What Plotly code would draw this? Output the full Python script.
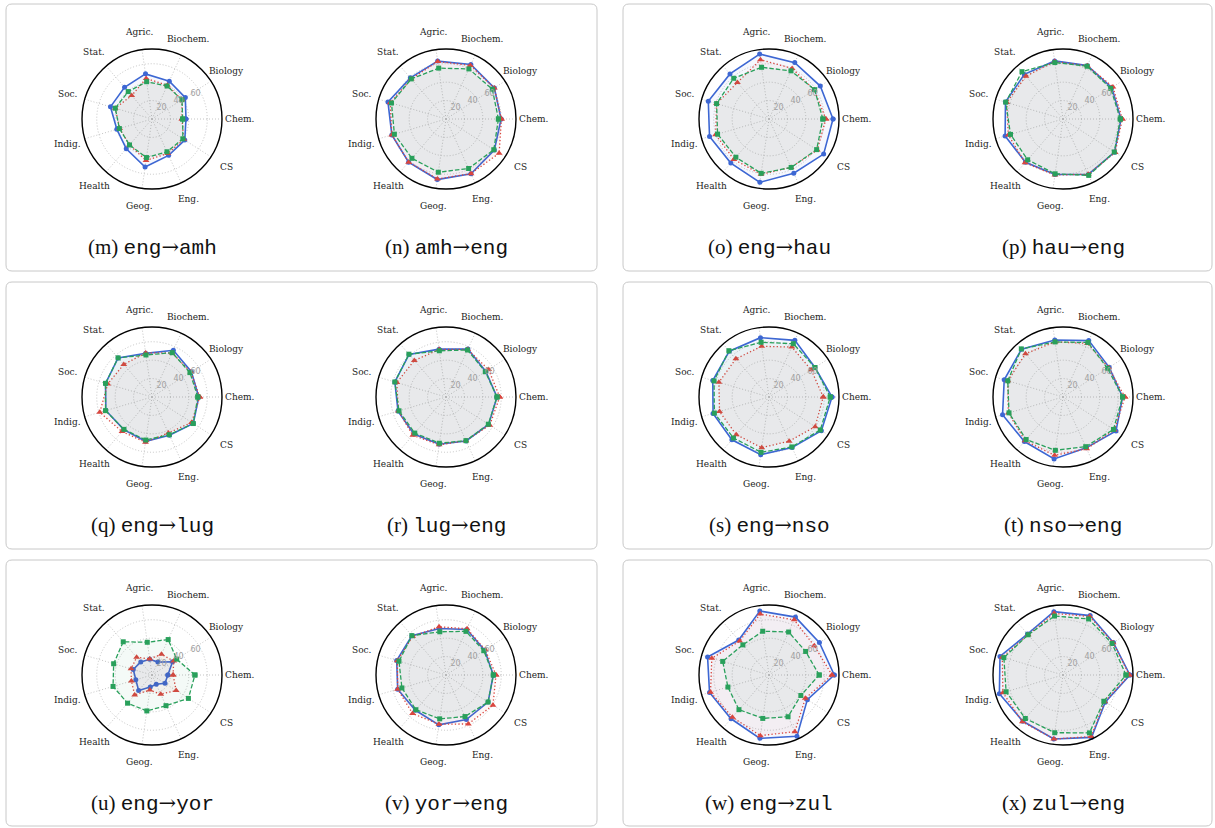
import math
import plotly.graph_objects as go

categories = ["Chem.", "Biology", "Biochem.", "Agric.", "Stat.", "Soc.",
              "Indig.", "Health", "Geog.", "Eng.", "CS"]
radial_ticks = [20, 40, 60]
r_max = 76

panel_letters = ["m", "n", "o", "p", "q", "r", "s", "t", "u", "v", "w", "x"]
src_langs = ["eng", "amh", "eng", "hau", "eng", "lug", "eng", "nso", "eng", "yor", "eng", "zul"]
tgt_langs = ["amh", "eng", "hau", "eng", "lug", "eng", "nso", "eng", "yor", "eng", "zul", "eng"]

# series values, ordered as categories
m_blue = [36.9, 43.0, 45.2, 49.5, 45.5, 47.0, 39.8, 42.7, 52.7, 43.4, 42.3]
m_red = [32.6, 38.7, 40.2, 44.5, 33.7, 41.6, 36.6, 37.3, 45.5, 41.2, 40.9]
m_green = [33.3, 38.7, 39.4, 40.9, 39.4, 41.6, 36.9, 37.3, 42.3, 39.1, 39.8]

n_blue = [59.8, 62.4, 65.0, 63.5, 59.1, 65.7, 61.3, 62.0, 66.4, 65.3, 62.4]
n_red = [60.2, 62.4, 63.9, 63.1, 57.6, 63.1, 61.3, 62.0, 65.7, 65.3, 68.6]
n_green = [56.9, 59.8, 59.8, 55.8, 57.6, 61.7, 58.4, 56.5, 58.4, 59.1, 61.7]

o_blue = [69.5, 66.2, 67.3, 71.3, 64.7, 68.7, 67.3, 63.3, 69.5, 64.7, 70.5]
o_red = [61.8, 58.5, 60.4, 65.1, 52.4, 59.3, 60.4, 58.2, 60.7, 57.8, 62.2]
o_green = [58.5, 58.9, 57.5, 56.7, 58.5, 59.3, 58.2, 54.9, 59.6, 57.8, 61.5]

p_blue = [63.0, 63.0, 63.7, 63.7, 64.1, 65.1, 65.5, 62.2, 60.8, 66.2, 66.6]
p_red = [64.4, 64.4, 63.7, 63.0, 61.5, 63.7, 61.9, 63.0, 61.5, 65.9, 67.3]
p_green = [62.2, 61.5, 63.0, 61.9, 68.0, 64.8, 59.4, 58.6, 60.1, 67.3, 66.2]

q_blue = [50.8, 50.8, 55.8, 47.9, 56.2, 52.6, 52.2, 46.8, 48.6, 45.7, 53.3]
q_red = [51.9, 50.1, 52.6, 48.3, 46.8, 50.1, 59.1, 49.7, 49.7, 42.9, 51.1]
q_green = [49.7, 49.0, 52.9, 46.1, 56.2, 52.6, 52.6, 46.5, 47.2, 45.0, 53.3]

r_blue = [55.4, 51.4, 57.2, 52.5, 61.2, 57.9, 54.3, 53.2, 51.8, 52.5, 55.0]
r_red = [58.3, 55.0, 56.8, 52.1, 52.5, 55.7, 53.9, 55.0, 52.5, 52.1, 56.5]
r_green = [55.4, 50.7, 56.1, 50.7, 61.5, 57.9, 53.2, 51.8, 50.7, 52.1, 54.6]

s_blue = [68.4, 59.3, 67.6, 65.1, 65.8, 63.6, 63.3, 61.5, 63.3, 60.4, 67.6]
s_red = [58.9, 54.5, 59.6, 55.6, 54.9, 56.7, 56.0, 54.2, 55.6, 52.7, 59.6]
s_green = [66.5, 59.3, 63.6, 60.0, 66.5, 62.2, 61.8, 58.9, 60.7, 59.6, 66.2]

t_blue = [64.7, 59.6, 67.3, 62.5, 68.7, 66.5, 68.4, 64.0, 68.0, 60.7, 68.4]
t_red = [67.3, 58.9, 64.0, 60.4, 62.2, 62.5, 61.8, 62.9, 64.0, 61.8, 66.2]
t_green = [64.7, 57.5, 65.1, 60.4, 69.1, 62.5, 61.1, 61.1, 58.5, 59.3, 65.1]

u_blue = [17.2, 26.5, 15.4, 17.2, 18.6, 21.2, 18.3, 22.2, 13.1, 11.1, 16.8]
u_red = [22.9, 28.0, 24.7, 17.6, 25.5, 23.7, 23.3, 28.7, 16.5, 22.9, 31.2]
u_green = [46.6, 31.9, 42.3, 35.9, 47.7, 43.4, 44.1, 40.5, 39.4, 36.6, 47.0]

v_blue = [51.4, 49.9, 54.3, 51.0, 56.5, 55.8, 54.7, 50.7, 54.7, 53.2, 54.3]
v_red = [54.3, 50.7, 55.1, 52.9, 55.4, 55.1, 54.7, 55.4, 54.0, 58.4, 60.6]
v_green = [51.4, 48.8, 52.1, 47.4, 56.5, 53.2, 49.9, 49.9, 48.1, 49.6, 54.3]

w_blue = [70.9, 65.1, 69.1, 70.2, 50.2, 69.5, 67.3, 62.9, 69.5, 73.1, 49.5]
w_red = [68.4, 58.5, 65.8, 66.9, 48.7, 64.7, 66.2, 60.7, 66.5, 67.6, 46.9]
w_green = [54.5, 47.3, 51.3, 48.0, 43.3, 52.4, 46.5, 49.8, 47.6, 49.8, 41.1]

x_blue = [72.7, 65.1, 70.9, 69.5, 58.9, 71.3, 72.0, 66.5, 70.2, 74.5, 54.5]
x_red = [72.0, 64.7, 69.8, 67.6, 57.8, 68.7, 68.0, 67.3, 70.2, 73.5, 53.8]
x_green = [68.4, 63.3, 66.9, 64.7, 57.8, 66.9, 64.4, 62.5, 63.3, 69.1, 52.7]

series_sets = [
    (m_blue, m_red, m_green), (n_blue, n_red, n_green),
    (o_blue, o_red, o_green), (p_blue, p_red, p_green),
    (q_blue, q_red, q_green), (r_blue, r_red, r_green),
    (s_blue, s_red, s_green), (t_blue, t_red, t_green),
    (u_blue, u_red, u_green), (v_blue, v_red, v_green),
    (w_blue, w_red, w_green), (x_blue, x_red, x_green),
]

# ---- styling / layout ----
W, H = 1215, 828
RADIUS = 70
LABEL_R = 88
col_centers = [152, 446, 769, 1063]
row_centers = [119, 397, 675]
caption_offset = 128

BLUE = "#3d67d3"
RED = "#d9463f"
GREEN = "#29a05b"
styles = [
    dict(color=BLUE, dash="solid", width=1.6, symbol="circle", size=5,
         fill="rgba(61,103,211,0.05)"),
    dict(color=RED, dash="1.3px,2.2px", width=1.3, symbol="triangle-up", size=6,
         fill="rgba(217,70,63,0.05)"),
    dict(color=GREEN, dash="4.5px,2px", width=1.3, symbol="square", size=5,
         fill="rgba(41,160,91,0.05)"),
]

fig = go.Figure()
layout_polars = {}
annotations = []

theta_closed = categories + [categories[0]]
n_cat = len(categories)

for i, (letter, sets) in enumerate(zip(panel_letters, series_sets)):
    row = i // 4
    col = i % 4
    cx = col_centers[col]
    cy = row_centers[row]
    name = "polar" if i == 0 else f"polar{i + 1}"
    for vals, st in zip(sets, styles):
        fig.add_trace(go.Scatterpolar(
            r=list(vals) + [vals[0]],
            theta=theta_closed,
            mode="lines+markers",
            fill="toself",
            fillcolor=st["fill"],
            line=dict(color=st["color"], dash=st["dash"], width=st["width"]),
            marker=dict(symbol=st["symbol"], size=st["size"], color=st["color"]),
            subplot=name,
            showlegend=False,
            hoverinfo="skip",
        ))
    layout_polars[name] = dict(
        domain=dict(x=[(cx - RADIUS) / W, (cx + RADIUS) / W],
                    y=[1 - (cy + RADIUS) / H, 1 - (cy - RADIUS) / H]),
        bgcolor="white",
        radialaxis=dict(
            range=[0, r_max], tickvals=radial_ticks,
            ticktext=[str(t) for t in radial_ticks],
            showline=False, ticks="", angle=22.5, tickangle=22.5,
            side="counterclockwise",
            gridcolor="#c4c4c4", griddash="1px,2px", gridwidth=0.8,
            tickfont=dict(family="DejaVu Sans", size=8, color="#a0a0a0"),
        ),
        angularaxis=dict(
            rotation=0, direction="counterclockwise", type="category",
            categoryarray=categories, showticklabels=False,
            showline=True, linecolor="black", linewidth=1.4, ticks="",
            gridcolor="#c4c4c4", griddash="1px,2px", gridwidth=0.8,
        ),
    )
    # category labels, centred at a fixed radius around the circle
    for k, cat in enumerate(categories):
        ang = 2 * math.pi * k / n_cat
        lx = cx + LABEL_R * math.cos(ang)
        ly = cy - LABEL_R * math.sin(ang)
        annotations.append(dict(
            text=cat, x=lx / W, y=1 - ly / H, xref="paper", yref="paper",
            showarrow=False, xanchor="center", yanchor="middle",
            font=dict(family="DejaVu Serif", size=9, color="#222222"),
        ))
    mono = "font-family:'Liberation Mono'"
    arrow = "font-family:'DejaVu Serif'"
    text = (f"({letter}) <span style=\"{mono}\">{src_langs[i]}</span>"
            f"<span style=\"{arrow}\">→</span>"
            f"<span style=\"{mono}\">{tgt_langs[i]}</span>")
    annotations.append(dict(
        text=text, x=cx / W, y=1 - (cy + caption_offset) / H,
        xref="paper", yref="paper", showarrow=False,
        xanchor="center", yanchor="middle",
        font=dict(family="Liberation Serif", size=21, color="#111111"),
    ))

# panel boxes (rounded)
boxes_x = [(6, 597), (623, 1212)]
boxes_y = [(4, 271), (282, 549), (560, 826)]
shapes = []
rc = 6


def px(x):
    return x / W


def py(y):
    return 1 - y / H


for (x0, x1) in boxes_x:
    for (y0, y1) in boxes_y:
        path = (f"M {px(x0 + rc)},{py(y0)} L {px(x1 - rc)},{py(y0)} "
                f"Q {px(x1)},{py(y0)} {px(x1)},{py(y0 + rc)} "
                f"L {px(x1)},{py(y1 - rc)} Q {px(x1)},{py(y1)} {px(x1 - rc)},{py(y1)} "
                f"L {px(x0 + rc)},{py(y1)} Q {px(x0)},{py(y1)} {px(x0)},{py(y1 - rc)} "
                f"L {px(x0)},{py(y0 + rc)} Q {px(x0)},{py(y0)} {px(x0 + rc)},{py(y0)} Z")
        shapes.append(dict(type="path", path=path, xref="paper", yref="paper",
                           line=dict(color="#c8c8c8", width=1), layer="below"))

fig.update_layout(
    width=W, height=H,
    margin=dict(l=0, r=0, t=0, b=0),
    paper_bgcolor="white",
    plot_bgcolor="white",
    annotations=annotations,
    shapes=shapes,
    **layout_polars,
)

fig.write_html("out.html",
               config={"displayModeBar": False},
               post_script="document.body.style.margin='0px';")
